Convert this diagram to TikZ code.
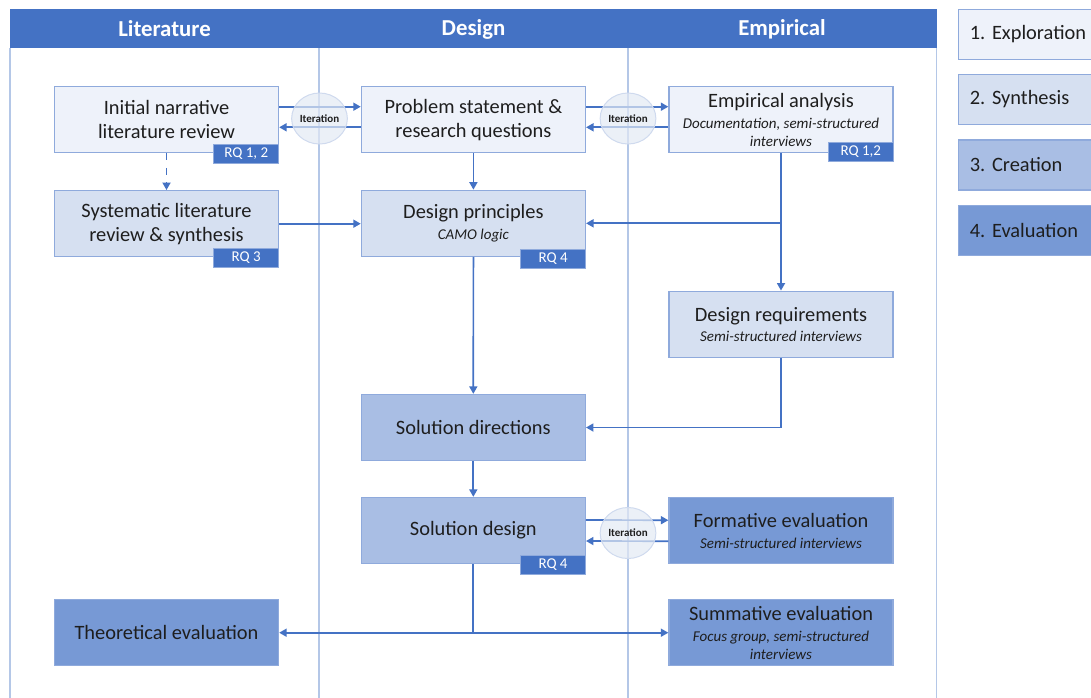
\documentclass[tikz,border=0pt]{standalone}
\usepackage{fontspec}
\setmainfont{Carlito}
\usetikzlibrary{arrows.meta,calc,shapes.geometric}

\definecolor{hdr}{HTML}{4472C4}
\definecolor{lane}{HTML}{B4C7E7}
\definecolor{bord}{HTML}{8FAADC}
\definecolor{explo}{HTML}{EEF2FA}
\definecolor{synth}{HTML}{D6E0F1}
\definecolor{creat}{HTML}{A9BEE4}
\definecolor{evalc}{HTML}{7799D5}
\definecolor{txt}{HTML}{1E1E1E}
\definecolor{iterfill}{HTML}{E2E9F4}
\definecolor{iterline}{HTML}{CFDAEE}

\newcommand{\subtxt}{\fontsize{15}{18}\selectfont\itshape}
\frenchspacing

\begin{document}
\begin{tikzpicture}[x=1pt,y=-1pt,
  box/.style={draw=bord, line width=1.3pt, minimum width=224pt, minimum height=66pt,
    inner sep=0pt, align=center, text=txt, font=\fontsize{20.4}{24}\selectfont},
  expl/.style={box, fill=explo},
  syn/.style={box, fill=synth},
  cre/.style={box, fill=creat},
  eva/.style={box, fill=evalc},
  rqtag/.style={fill=hdr, draw=bord, line width=0.8pt, text=white, minimum width=65pt,
    minimum height=19pt, inner sep=0pt, anchor=north east, font=\fontsize{15}{17}\selectfont},
  conn/.style={draw=hdr, line width=1.7pt, -{Triangle[length=7.5pt,width=8pt]}},
  plain/.style={draw=hdr, line width=1.7pt},
  iter/.style={ellipse, minimum width=55pt, minimum height=51pt, inner sep=0pt,
    fill=iterfill, draw=iterline, line width=1pt, fill opacity=0.7, text opacity=1,
    text=txt, font=\bfseries\fontsize{11}{13}\selectfont},
  lanehead/.style={text=white, font=\bfseries\fontsize{22.8}{26}\selectfont},
  legend/.style={draw=bord, line width=1.3pt, anchor=west, minimum height=50pt,
    text width=122pt, inner xsep=11.5pt, align=left, text=txt,
    font=\fontsize{20.4}{24}\selectfont}
]
\useasboundingbox (0,0) rectangle (1091,697);

% swimlane frame and dividers
\draw[lane, line width=1.5pt] (10,48) -- (10,700);
\draw[lane, line width=1.5pt] (319,48) -- (319,700);
\draw[lane, line width=1.5pt] (628,48) -- (628,700);
\draw[lane, line width=1.5pt] (936.5,9) -- (936.5,700);

% header bar
\fill[hdr] (10,9) rectangle (936.5,48);
\node[lanehead] (hlit) at (164.5,29) {Literature};
\node[lanehead] (hdes) at (473.5,29) {Design};
\node[lanehead] (hemp) at (782,29) {Empirical};

% legend
\node[legend, fill=explo] (lg1) at (957.6,34.2) {1. Exploration};
\node[legend, fill=synth] (lg2) at (957.6,99.5) {2. Synthesis};
\node[legend, fill=creat] (lg3) at (957.6,165) {3. Creation};
\node[legend, fill=evalc] (lg4) at (957.6,230.8) {4. Evaluation};

% process boxes
\node[expl] (init) at (166.5,119.7) {Initial narrative\\literature review};
\node[syn]  (syst) at (166.5,223.7) {Systematic literature\\review \& synthesis};
\node[expl] (prob) at (473.4,119.7) {Problem statement \&\\research questions};
\node[syn]  (dp)   at (473.4,223.3) {Design principles\\[-2.3pt]{\subtxt CAMO logic}};
\node[expl] (emp)  at (781,119.7) {Empirical analysis\\[-3pt]{\subtxt Documentation, semi-structured}\\[-5.7pt]{\subtxt interviews}};
\node[syn]  (dreq) at (781,324.2) {Design requirements\\[-4pt]{\subtxt Semi-structured interviews}};
\node[cre]  (sdir) at (473.3,427.5) {Solution directions};
\node[cre]  (sdes) at (473.3,530.5) {Solution design};
\node[eva]  (form) at (781,530.7) {Formative evaluation\\[-3.4pt]{\subtxt Semi-structured interviews}};
\node[eva]  (theo) at (166.5,632.7) {Theoretical evaluation};
\node[eva]  (summ) at (781,632.7) {Summative evaluation\\[-3pt]{\subtxt Focus group, semi-structured}\\[-5.7pt]{\subtxt interviews}};

% connectors
\draw[conn] ([yshift=13pt]init.east) -- ([yshift=13pt]prob.west);
\draw[conn] ([yshift=-7.6pt]prob.west) -- ([yshift=-7.6pt]init.east);
\draw[conn] ([yshift=13pt]prob.east) -- ([yshift=13pt]emp.west);
\draw[conn] ([yshift=-7.6pt]emp.west) -- ([yshift=-7.6pt]prob.east);
\draw[conn, dash pattern=on 7pt off 7.5pt] (init.south) -- (syst.north);
\draw[conn] (syst.east) -- (syst.east -| dp.west);
\draw[conn] (prob.south) -- (dp.north);
\draw[conn] (emp.south) -- (dreq.north);
\coordinate (empsplit) at (emp.south |- dp.east);
\draw[conn] (empsplit) -- (dp.east);
\draw[conn] (dp.south) -- (sdir.north);
\coordinate (reqturn) at (dreq.south |- sdir.east);
\draw[plain] (dreq.south) -- (reqturn);
\draw[conn] (reqturn) -- (sdir.east);
\draw[conn] (sdir.south) -- (sdes.north);
\draw[conn] ([yshift=10.5pt]sdes.east) -- ([yshift=10.5pt]form.west);
\draw[conn] ([yshift=-10.5pt]form.west) -- ([yshift=-10.5pt]sdes.east);
\coordinate (evalsplit) at (sdes.south |- theo.east);
\draw[plain] (sdes.south) -- (evalsplit);
\draw[conn] (evalsplit) -- (theo.east);
\draw[conn] (evalsplit) -- (summ.west);

% iteration markers
\node[iter] (it1) at (319.5,118.5) {Iteration};
\node[iter] (it2) at (628,118.5) {Iteration};
\node[iter] (it3) at (628,533) {Iteration};

% research question tags
\node[rqtag] (rq1) at ([yshift=9.4pt]init.south east) {RQ 1, 2};
\node[rqtag] (rq2) at ([yshift=9.4pt]syst.south east) {RQ 3};
\node[rqtag] (rq3) at ([yshift=8.4pt]dp.south east) {RQ 4};
\node[rqtag] (rq4) at ([yshift=11.7pt]emp.south east) {RQ 1,2};
\node[rqtag] (rq5) at ([yshift=9.3pt]sdes.south east) {RQ 4};

\end{tikzpicture}
\end{document}
